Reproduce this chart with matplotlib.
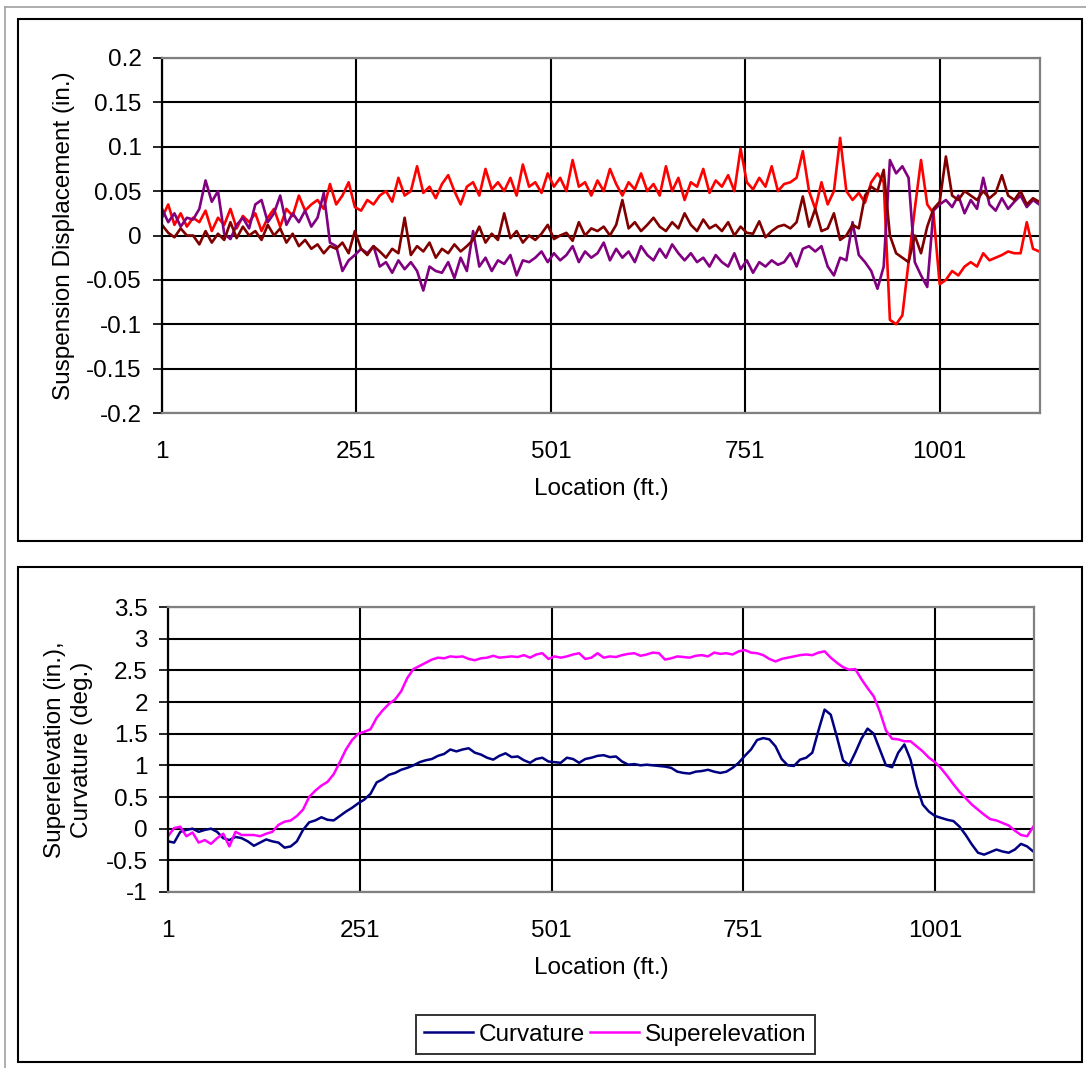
"""Suspension displacement and track geometry along the curve."""

import matplotlib
matplotlib.use("Agg")
import matplotlib.pyplot as plt
import numpy as np
from matplotlib.lines import Line2D
from matplotlib.patches import Rectangle

plt.rcParams["font.family"] = ["Liberation Sans", "DejaVu Sans"]

# location along the track (ft.), one reading every 8 ft
location = np.arange(1, 1130, 8)

# suspension displacement (in.)
disp_red = [
    0.02, 0.035, 0.012, 0.025, 0.01, 0.02, 0.015, 0.028, 0.005, 0.02,
    0.012, 0.03, 0.008, 0.022, 0.015, 0.025, 0.005, 0.02, 0.03, 0.01,
    0.03, 0.022, 0.045, 0.028, 0.035, 0.04, 0.03, 0.058, 0.035, 0.045,
    0.06, 0.032, 0.028, 0.04, 0.035, 0.045, 0.05, 0.038, 0.065, 0.045,
    0.05, 0.078, 0.048, 0.055, 0.042, 0.058, 0.068, 0.05, 0.035, 0.055,
    0.06, 0.045, 0.075, 0.052, 0.06, 0.05, 0.065, 0.045, 0.08, 0.055,
    0.06, 0.048, 0.07, 0.055, 0.065, 0.05, 0.085, 0.055, 0.06, 0.045,
    0.062, 0.05, 0.075, 0.058, 0.045, 0.06, 0.052, 0.07, 0.05, 0.058,
    0.045, 0.078, 0.05, 0.065, 0.04, 0.06, 0.055, 0.075, 0.048, 0.062,
    0.055, 0.068, 0.05, 0.098, 0.06, 0.052, 0.065, 0.055, 0.078, 0.05,
    0.058, 0.06, 0.065, 0.095, 0.05, 0.03, 0.06, 0.035, 0.05, 0.11,
    0.05, 0.04, 0.048, 0.037, 0.06, 0.07, 0.06, -0.095, -0.1, -0.09,
    -0.03, 0.03, 0.085, 0.035, 0.025, -0.055, -0.05, -0.04, -0.045, -0.035,
    -0.03, -0.035, -0.02, -0.028, -0.025, -0.022, -0.018, -0.02, -0.02, 0.015,
    -0.015, -0.018,
]
disp_purple = [
    0.03, 0.015, 0.025, 0.01, 0.02, 0.018, 0.03, 0.062, 0.038, 0.05,
    0.002, -0.004, 0.012, 0.02, 0.008, 0.035, 0.04, 0.015, 0.025, 0.045,
    0.012, 0.025, 0.015, 0.028, 0.01, 0.02, 0.048, -0.008, -0.012, -0.04,
    -0.028, -0.022, -0.015, -0.02, -0.012, -0.035, -0.03, -0.042, -0.028, -0.038,
    -0.03, -0.04, -0.062, -0.035, -0.04, -0.042, -0.03, -0.048, -0.025, -0.04,
    0.005, -0.035, -0.025, -0.04, -0.028, -0.032, -0.022, -0.045, -0.028, -0.03,
    -0.025, -0.018, -0.03, -0.02, -0.028, -0.022, -0.012, -0.03, -0.018, -0.025,
    -0.02, -0.008, -0.028, -0.015, -0.025, -0.018, -0.03, -0.012, -0.022, -0.028,
    -0.015, -0.025, -0.01, -0.02, -0.028, -0.02, -0.03, -0.025, -0.035, -0.022,
    -0.03, -0.035, -0.02, -0.038, -0.028, -0.042, -0.03, -0.035, -0.028, -0.033,
    -0.03, -0.02, -0.035, -0.015, -0.012, -0.018, -0.012, -0.035, -0.045, -0.025,
    -0.028, 0.015, -0.022, -0.03, -0.04, -0.06, -0.035, 0.085, 0.07, 0.078,
    0.065, -0.03, -0.045, -0.058, 0.028, 0.035, 0.04, 0.032, 0.045, 0.025,
    0.04, 0.03, 0.065, 0.035, 0.028, 0.042, 0.03, 0.038, 0.045, 0.032,
    0.04, 0.035,
]
disp_maroon = [
    0.012, 0.003, -0.002, 0.008, 0.0, 0.0, -0.01, 0.005, -0.008, 0.002,
    -0.005, 0.015, -0.003, 0.01, 0.0, 0.005, -0.005, 0.012, 0.0, 0.008,
    -0.008, 0.002, -0.012, -0.005, -0.015, -0.01, -0.02, -0.012, -0.015, -0.008,
    -0.02, 0.005, -0.015, -0.022, -0.012, -0.018, -0.025, -0.015, -0.02, 0.02,
    -0.022, -0.012, -0.018, -0.008, -0.025, -0.015, -0.02, -0.01, -0.018, -0.012,
    -0.005, 0.01, -0.008, 0.002, -0.005, 0.025, -0.003, 0.005, -0.008, 0.0,
    -0.005, 0.002, 0.012, -0.004, 0.0, 0.003, -0.006, 0.015, 0.0, 0.008,
    0.005, 0.01, 0.0, 0.012, 0.04, 0.008, 0.015, 0.005, 0.012, 0.02,
    0.01, 0.005, 0.015, 0.008, 0.025, 0.012, 0.005, 0.018, 0.008, 0.012,
    0.005, 0.015, 0.0, 0.01, 0.003, 0.002, 0.016, -0.002, 0.005, 0.01,
    0.012, 0.008, 0.015, 0.044, 0.01, 0.03, 0.005, 0.008, 0.025, -0.005,
    0.0, 0.012, 0.008, 0.045, 0.055, 0.05, 0.074, 0.0, -0.02, -0.025,
    -0.03, 0.0, -0.02, 0.01, 0.03, 0.038, 0.089, 0.045, 0.04, 0.05,
    0.045, 0.04, 0.05, 0.042, 0.048, 0.068, 0.045, 0.04, 0.05, 0.035,
    0.042, 0.038,
]

# track geometry
curvature = [
    -0.2, -0.22, -0.05, -0.02, 0.0, -0.05, -0.02, 0.0, -0.05, -0.15,
    -0.18, -0.13, -0.15, -0.2, -0.27, -0.22, -0.17, -0.2, -0.22, -0.3,
    -0.28, -0.2, -0.02, 0.1, 0.13, 0.18, 0.14, 0.13, 0.2, 0.27,
    0.33, 0.4, 0.46, 0.55, 0.73, 0.78, 0.85, 0.88, 0.93, 0.96,
    1.0, 1.05, 1.08, 1.1, 1.15, 1.18, 1.25, 1.22, 1.25, 1.27,
    1.2, 1.17, 1.12, 1.09, 1.15, 1.19, 1.13, 1.14, 1.08, 1.04,
    1.1, 1.12, 1.06, 1.05, 1.04, 1.12, 1.1, 1.04, 1.1, 1.12,
    1.15, 1.16, 1.13, 1.14, 1.06, 1.01, 1.02, 1.0, 1.01, 1.0,
    0.99, 0.98, 0.96, 0.9, 0.88, 0.87, 0.9, 0.91, 0.93, 0.9,
    0.88, 0.9, 0.96, 1.04, 1.15, 1.25, 1.4, 1.43, 1.41, 1.3,
    1.1, 1.0, 0.99, 1.09, 1.12, 1.2, 1.55, 1.88, 1.8, 1.45,
    1.08, 1.0, 1.2, 1.42, 1.58, 1.5, 1.25, 1.0, 0.97, 1.2,
    1.33, 1.09, 0.67, 0.38, 0.27, 0.2, 0.17, 0.14, 0.12, 0.03,
    -0.1, -0.25, -0.38, -0.41, -0.37, -0.33, -0.36, -0.38, -0.33, -0.24,
    -0.28, -0.36,
]
superelevation = [
    -0.12, 0.01, 0.03, -0.12, -0.06, -0.22, -0.18, -0.24, -0.15, -0.08,
    -0.28, -0.05, -0.1, -0.1, -0.1, -0.12, -0.08, -0.05, 0.06, 0.11,
    0.13, 0.2, 0.3, 0.5, 0.6, 0.68, 0.74, 0.86, 1.05, 1.25,
    1.4, 1.5, 1.53, 1.57, 1.75, 1.87, 1.97, 2.04, 2.17, 2.38,
    2.52, 2.57, 2.62, 2.67, 2.7, 2.69, 2.72, 2.71, 2.72, 2.68,
    2.66, 2.69, 2.7, 2.73, 2.7, 2.71, 2.72, 2.71, 2.74, 2.7,
    2.75, 2.77, 2.68, 2.72, 2.7, 2.72, 2.75, 2.77, 2.68, 2.7,
    2.77, 2.7, 2.72, 2.71, 2.74, 2.76, 2.77, 2.73, 2.75, 2.78,
    2.77, 2.67, 2.69, 2.72, 2.71, 2.7, 2.73, 2.74, 2.72, 2.78,
    2.76, 2.77, 2.75, 2.8, 2.82, 2.78, 2.77, 2.74, 2.68, 2.64,
    2.68, 2.7, 2.72, 2.74, 2.75, 2.74, 2.78, 2.8, 2.7, 2.62,
    2.55, 2.51, 2.52, 2.36, 2.22, 2.09, 1.85, 1.55, 1.42, 1.41,
    1.38, 1.38, 1.3, 1.22, 1.12, 1.05, 0.95, 0.83, 0.7, 0.58,
    0.48, 0.38, 0.3, 0.22, 0.15, 0.13, 0.09, 0.05, -0.03, -0.1,
    -0.12, 0.03,
]

x_ticks = [1, 251, 501, 751, 1001]
top_y_ticks = [-0.2, -0.15, -0.1, -0.05, 0, 0.05, 0.1, 0.15, 0.2]
top_y_labels = ["-0.2", "-0.15", "-0.1", "-0.05", "0", "0.05", "0.1", "0.15", "0.2"]
bot_y_ticks = [-1, -0.5, 0, 0.5, 1, 1.5, 2, 2.5, 3, 3.5]
bot_y_labels = ["-1", "-0.5", "0", "0.5", "1", "1.5", "2", "2.5", "3", "3.5"]

W, H = 1086, 1068
FS = 17.5


def _px_axes(fig, left, top, right, bottom):
    return fig.add_axes([left / W, 1 - bottom / H, (right - left) / W, (bottom - top) / H])


def _style(ax, yticks, ylabels):
    ax.set_xlim(1, 1130)
    ax.set_ylim(yticks[0], yticks[-1])
    ax.set_xticks(x_ticks)
    ax.set_yticks(yticks)
    ax.set_yticklabels(ylabels)
    ax.tick_params(axis="x", length=0, pad=20, labelsize=FS)
    ax.tick_params(axis="y", length=6.5, width=1.2, direction="out", pad=8, labelsize=FS)
    ax.grid(True, color="black", linewidth=1.5)
    ax.set_axisbelow(True)
    for side in ("top", "right", "bottom"):
        ax.spines[side].set_color("#808080")
    for sp in ax.spines.values():
        sp.set_linewidth(1.6)
    ax.spines["left"].set_color("black")


def _box(fig, left, top, right, bottom):
    fig.add_artist(Rectangle((left / W, 1 - bottom / H), (right - left) / W, (bottom - top) / H,
                             transform=fig.transFigure, fill=False, ec="black", lw=1.5))


fig = plt.figure(figsize=(W / 100, H / 100), dpi=100)

# outer frame edge
fig.add_artist(Line2D([5 / W, 5 / W], [0, 1 - 7 / H], transform=fig.transFigure, color="#a0a0a0", lw=1.2))
fig.add_artist(Line2D([5 / W, 1], [1 - 7 / H, 1 - 7 / H], transform=fig.transFigure, color="#a0a0a0", lw=1.2))
_box(fig, 17.5, 18.5, 1081.5, 540.5)
_box(fig, 17.5, 566.5, 1082, 1062)

ax1 = _px_axes(fig, 162, 58, 1040, 413)
ax1.plot(location, disp_red, color="#ff0000", lw=1.9)
ax1.plot(location, disp_purple, color="#800080", lw=1.9)
ax1.plot(location, disp_maroon, color="#800000", lw=1.9)
_style(ax1, top_y_ticks, top_y_labels)
ax1.set_xlabel("Location (ft.)", fontsize=FS, labelpad=11)
ax1.set_ylabel("Suspension Displacement (in.)", fontsize=FS, labelpad=8)

ax2 = _px_axes(fig, 168, 607, 1034, 892)
ax2.plot(location, curvature, color="#000080", lw=1.8, label="Curvature")
ax2.plot(location, superelevation, color="#ff00ff", lw=1.8, label="Superelevation")
_style(ax2, bot_y_ticks, bot_y_labels)
ax2.set_xlabel("Location (ft.)", fontsize=FS, labelpad=11)
ax2.set_ylabel("Superelevation (in.),\nCurvature (deg.)", fontsize=FS, labelpad=9, linespacing=1.3)

leg = fig.legend(*ax2.get_legend_handles_labels(), loc="center", ncol=2,
                 bbox_to_anchor=(615.5 / W, 1 - 1034.7 / H), fontsize=FS,
                 frameon=True, fancybox=False, edgecolor="black",
                 handlelength=2.0, handletextpad=0.25, columnspacing=0.2,
                 borderpad=0.35, borderaxespad=0)
leg.get_frame().set_linewidth(1.4)

fig.savefig("out.png", dpi=100)
